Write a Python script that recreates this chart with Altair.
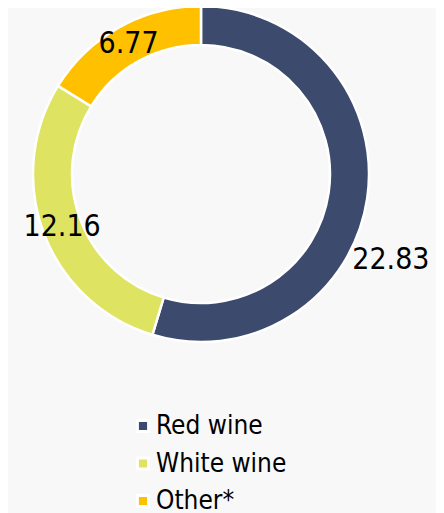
import altair as alt
import pandas as pd

categories = ["Red wine", "White wine", "Other*"]
values = [22.83, 12.16, 6.77]
labels = ["22.83", "12.16", "6.77"]
colors = ["#3c4a6e", "#dfe362", "#ffc000"]

df = pd.DataFrame({
    "category": categories,
    "value": values,
    "label": labels,
    "order": list(range(len(categories))),
})

FONT = "DejaVu Sans Condensed"
CX, CY = 193, 166

base = alt.Chart(df).encode(
    theta=alt.Theta("value:Q", stack=True),
    order=alt.Order("order:Q"),
)

arcs = base.mark_arc(
    innerRadius=129, outerRadius=168, stroke="white", strokeWidth=2.5
).encode(
    x=alt.value(CX), y=alt.value(CY),
    color=alt.Color(
        "category:N",
        scale=alt.Scale(domain=categories, range=colors),
        sort=categories,
        legend=alt.Legend(
            title=None, orient="none", legendX=122, legendY=405,
            symbolType="square", symbolSize=125, symbolStrokeColor="white",
            symbolStrokeWidth=3, symbolOpacity=1,
            labelFont=FONT, labelFontSize=26, labelColor="black",
            labelOffset=0, rowPadding=11.5,
        ),
    ),
)

text_mid = base.mark_text(
    radius=148.5, font=FONT, fontSize=30, color="black"
).encode(
    x=alt.value(CX), y=alt.value(CY),
    text=alt.condition(alt.datum.category != "Red wine", "label:N", alt.value("")),
)

text_red = base.mark_text(
    radius=148.5, font=FONT, fontSize=30, color="black", dx=43, dy=64
).encode(
    x=alt.value(CX), y=alt.value(CY),
    text=alt.condition(alt.datum.category == "Red wine", "label:N", alt.value("")),
)

chart = alt.layer(arcs, text_mid, text_red).properties(
    width=428, height=505, autosize="none", padding=0, background="#f8f8f8"
).configure_view(stroke=None)

chart.save("out.html", embed_options={"renderer": "svg", "actions": False})
